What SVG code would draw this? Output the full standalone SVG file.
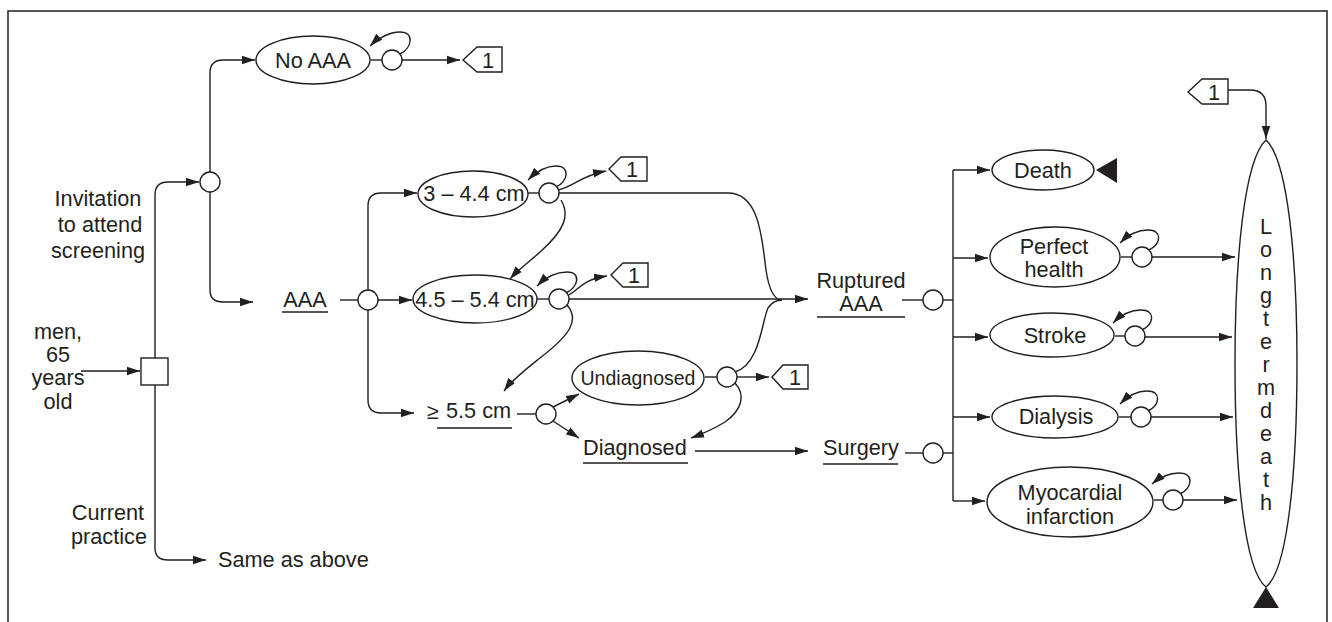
<svg xmlns="http://www.w3.org/2000/svg" width="1332" height="622" viewBox="0 0 1332 622">
<style>
text{font-family:"Liberation Sans",Arial,sans-serif;font-size:21.7px;fill:#231f20}
.m{text-anchor:middle}
.sm{font-size:19.5px}
.n{fill:#fff;stroke:#231f20;stroke-width:1.4}
.c{fill:none;stroke:#231f20;stroke-width:1.4}
.a{fill:none;stroke:#231f20;stroke-width:1.4;marker-end:url(#ah)}
.u{stroke:#231f20;stroke-width:1.4}
</style>
<defs>
<marker id="ah" markerUnits="userSpaceOnUse" markerWidth="14" markerHeight="10" refX="13" refY="5" orient="auto">
<path d="M0,0.8 L13,5 L0,9.2 Z" fill="#231f20"/>
</marker>
</defs>
<rect x="8" y="11" width="1319" height="640" fill="none" stroke="#231f20" stroke-width="1.5"/>

<g id="connectors">
<path class="a" d="M81,371 H140"/>
<path class="a" d="M155,358 V195 Q155,182 168,182 H199"/>
<path class="c" d="M155,385 V548"/>
<path class="a" d="M155,548 Q155,560 168,560 H206"/>
<path class="a" d="M210,172 V73 Q210,60 223,60 H255"/>
<path class="a" d="M210,192 V290 Q210,302 223,302 H253"/>
<path class="a" d="M402,60 H460"/>
<path class="a" d="M400,54 C412,48 415,32 400,32 C390,32 378,38 370,46"/>
<path class="c" d="M371,60 H382"/>
<path class="c" d="M340,300 H358"/>
<path class="a" d="M378,300 H412"/>
<path class="a" d="M368,290 V206 Q368,193 381,193 H417"/>
<path class="a" d="M368,310 V400 Q368,413 381,413 H414"/>
<path class="c" d="M528,193 H539"/>
<path class="a" d="M556,187 C568,182 571,166 556,166 C545,166 536,172 528,180"/>
<path class="a" d="M558,190 C575,186 580,176 606,171"/>
<path class="c" d="M559,193 H728 C760,193 762,240 766,270 C769,290 774,300 782,300"/>
<path class="a" d="M561,200 C570,215 565,230 540,252 C528,263 518,270 510,279"/>
<path class="c" d="M537,299 H549"/>
<path class="a" d="M566,293 C578,288 582,272 567,272 C556,272 545,278 537,286"/>
<path class="a" d="M567,296 C580,290 580,280 607,276"/>
<path class="a" d="M569,299 H808"/>
<path class="a" d="M567,305 C580,320 570,335 540,358 C525,370 512,380 504,391"/>
<path class="c" d="M517,414 H536"/>
<path class="a" d="M553,407 L579,394"/>
<path class="a" d="M553,421 L579,438"/>
<path class="c" d="M705,377 H717"/>
<path class="a" d="M737,377 H769"/>
<path class="c" d="M735,372 C760,365 762,320 768,308 C772,302 776,300 782,300"/>
<path class="a" d="M735,383 C746,395 742,410 725,422 C712,430 702,434 691,438"/>
<path class="a" d="M695,451 H808"/>
<path class="c" d="M902,300 H923"/>
<path class="c" d="M943,300 H953"/>
<path class="c" d="M905,453 H923"/>
<path class="c" d="M943,453 H953"/>
<path class="c" d="M953,170 V501"/>
<path class="a" d="M953,170 H990"/>
<path class="a" d="M953,258 H988"/>
<path class="a" d="M953,337 H988"/>
<path class="a" d="M953,417 H990"/>
<path class="a" d="M953,501 H985"/>
<path class="c" d="M1121,257 H1132"/>
<path class="a" d="M1149,250 C1161,244 1163,230 1148,230 C1136,230 1127,236 1120,243"/>
<path class="a" d="M1152,257 H1235"/>
<path class="c" d="M1115,336 H1125"/>
<path class="a" d="M1142,330 C1154,324 1156,310 1141,310 C1129,310 1120,316 1113,323"/>
<path class="a" d="M1145,337 H1232"/>
<path class="c" d="M1119,417 H1131"/>
<path class="a" d="M1148,411 C1160,405 1162,391 1147,391 C1135,391 1127,397 1120,404"/>
<path class="a" d="M1151,417 H1233"/>
<path class="c" d="M1154,500 H1163"/>
<path class="a" d="M1180,494 C1192,488 1195,473 1179,473 C1167,473 1159,478 1152,484"/>
<path class="a" d="M1183,500 H1237"/>
<path class="a" d="M1228,90 H1250 Q1266,90 1266,106 V139"/>
</g>

<g id="start">
<rect class="n" x="141" y="358" width="27" height="27"/>
<text class="m" x="58" y="339">men,</text>
<text class="m" x="58" y="362">65</text>
<text class="m" x="58" y="385">years</text>
<text class="m" x="58" y="409">old</text>
</g>
<g id="invitation">
<text class="m" x="98" y="206">Invitation</text>
<text class="m" x="100" y="232">to attend</text>
<text class="m" x="98" y="258">screening</text>
<circle class="n" cx="210" cy="182" r="10"/>
</g>
<g id="current">
<text class="m" x="108" y="520">Current</text>
<text class="m" x="109" y="544">practice</text>
</g>
<g id="same"><text x="218" y="567">Same as above</text></g>

<g id="noaaa">
<ellipse class="n" cx="313" cy="60" rx="57" ry="24"/>
<text class="m" x="313" y="68">No AAA</text>
<circle class="n" cx="392" cy="60" r="10"/>
</g>
<g id="tag1a">
<path class="n" d="M463,60 L477,47 H502 V72 H477 Z"/>
<text class="m" x="488" y="68">1</text>
</g>

<g id="aaa">
<text class="m" x="305" y="307">AAA</text>
<line class="u" x1="282" y1="312" x2="328" y2="312"/>
<circle class="n" cx="368" cy="300" r="10"/>
</g>

<g id="s1">
<ellipse class="n" cx="473" cy="194" rx="55" ry="23"/>
<text class="m" x="474" y="201">3 – 4.4 cm</text>
<circle class="n" cx="549" cy="193" r="10"/>
</g>
<g id="tag1b">
<path class="n" d="M609,169 L621,157 H647 V181 H621 Z"/>
<text class="m" x="632" y="177">1</text>
</g>
<g id="s2">
<ellipse class="n" cx="475" cy="299" rx="62" ry="24"/>
<text class="m" x="475" y="307">4.5 – 5.4 cm</text>
<circle class="n" cx="559" cy="299" r="10"/>
</g>
<g id="tag1c">
<path class="n" d="M611,275 L623,263 H648 V287 H623 Z"/>
<text class="m" x="634" y="283">1</text>
</g>
<g id="s3">
<text x="427" y="419">≥</text>
<text x="446" y="418">5.5 cm</text>
<line class="u" x1="437" y1="428" x2="512" y2="428"/>
<circle class="n" cx="546" cy="414" r="10"/>
</g>
<g id="undiagnosed">
<ellipse class="n" cx="638" cy="378" rx="66" ry="27"/>
<text class="m sm" x="638" y="385">Undiagnosed</text>
<circle class="n" cx="727" cy="377" r="10"/>
</g>
<g id="tag1d">
<path class="n" d="M772,377 L783,365 H808 V389 H783 Z"/>
<text class="m" x="795" y="385">1</text>
</g>
<g id="diagnosed">
<text x="583" y="455">Diagnosed</text>
<line class="u" x1="583" y1="463" x2="688" y2="463"/>
</g>

<g id="ruptured">
<text class="m" x="861" y="288">Ruptured</text>
<text class="m" x="861" y="311">AAA</text>
<line class="u" x1="817" y1="317" x2="905" y2="317"/>
<circle class="n" cx="933" cy="300" r="10"/>
</g>
<g id="surgery">
<text x="823" y="455">Surgery</text>
<line class="u" x1="823" y1="464" x2="898" y2="464"/>
<circle class="n" cx="933" cy="453" r="10"/>
</g>

<g id="death">
<ellipse class="n" cx="1043" cy="170" rx="51" ry="20"/>
<text class="m" x="1043" y="178">Death</text>
<path d="M1096,170 L1117,158 V183 Z" fill="#231f20"/>
</g>
<g id="perfect">
<ellipse class="n" cx="1055" cy="257" rx="65" ry="30"/>
<text class="m" x="1054" y="254">Perfect</text>
<text class="m" x="1054" y="277">health</text>
<circle class="n" cx="1142" cy="257" r="10"/>
</g>
<g id="stroke">
<ellipse class="n" cx="1052" cy="335" rx="62" ry="22"/>
<text class="m" x="1055" y="343">Stroke</text>
<circle class="n" cx="1135" cy="336" r="10"/>
</g>
<g id="dialysis">
<ellipse class="n" cx="1055" cy="417" rx="63" ry="21"/>
<text class="m" x="1056" y="424">Dialysis</text>
<circle class="n" cx="1141" cy="417" r="10"/>
</g>
<g id="myocardial">
<ellipse class="n" cx="1070" cy="502" rx="83" ry="35"/>
<text class="m" x="1070" y="500">Myocardial</text>
<text class="m" x="1070" y="524">infarction</text>
<circle class="n" cx="1173" cy="500" r="10"/>
</g>

<g id="tag1e">
<path class="n" d="M1188,92 L1202,79 H1228 V104 H1202 Z"/>
<text class="m" x="1214" y="100">1</text>
</g>

<g id="longterm">
<path class="n" d="M1266,140 C1288,160 1297,260 1297,363 C1297,470 1288,570 1266,587 C1244,570 1235,470 1235,363 C1235,260 1244,160 1266,140 Z"/>
<path d="M1266,587 L1279,608 H1253 Z" fill="#231f20"/>
<text class="m" x="1266" y="234">L</text>
<text class="m" x="1266" y="257">o</text>
<text class="m" x="1266" y="280">n</text>
<text class="m" x="1266" y="303">g</text>
<text class="m" x="1266" y="326">t</text>
<text class="m" x="1266" y="349">e</text>
<text class="m" x="1266" y="372">r</text>
<text class="m" x="1266" y="395">m</text>
<text class="m" x="1266" y="418">d</text>
<text class="m" x="1266" y="441">e</text>
<text class="m" x="1266" y="464">a</text>
<text class="m" x="1266" y="487">t</text>
<text class="m" x="1266" y="510">h</text>
</g>
</svg>
